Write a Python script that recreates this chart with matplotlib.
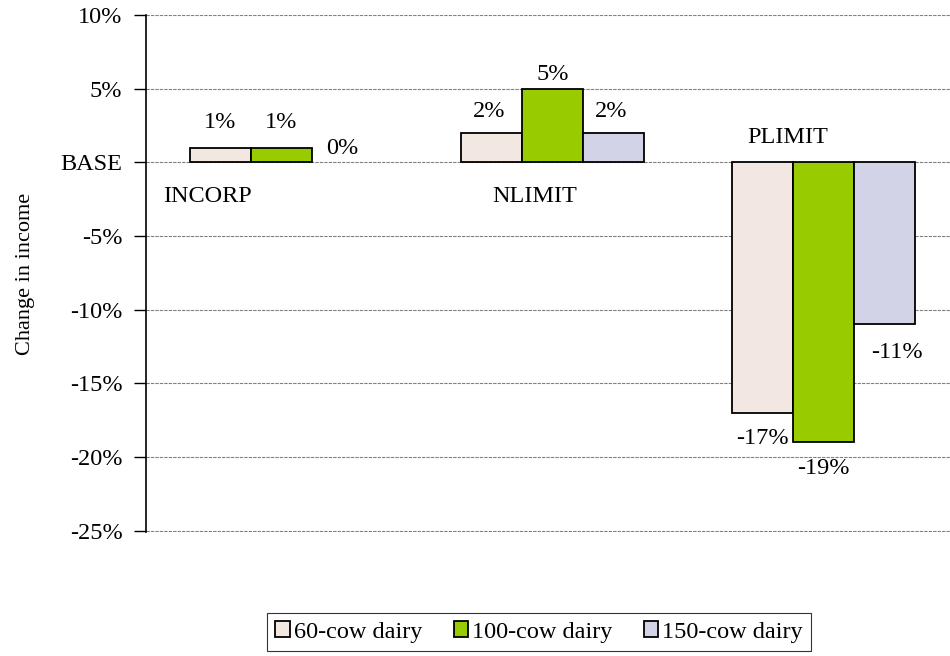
import numpy as np
import matplotlib
matplotlib.use('Agg')
import matplotlib.pyplot as plt

plt.rcParams['font.family'] = ['Liberation Serif', 'DejaVu Serif']

# data
scenarios = ['INCORP', 'NLIMIT', 'PLIMIT']
series = ['60-cow dairy', '100-cow dairy', '150-cow dairy']
dairy60 = [1, 2, -17]
dairy100 = [1, 5, -19]
dairy150 = [0, 2, -11]
yticks = [10, 5, 0, -5, -10, -15, -20, -25]
ytick_labels = ['10%', '5%', 'BASE', '-5%', '-10%', '-15%', '-20%', '-25%']

colors = ['#F3E7E2', '#99CC00', '#D3D3E8']
# label offsets in pixels (dx, dy) from the end of each bar
lab_off = [
    [(0, 25), (0, 25), (0, 14)],
    [(-2, 21), (0, 14), (-2, 21)],
    [(0, -26), (0, -26), (12, -28)],
]
cat_off = [(-74, -34), (-18, -34), (-36, 25)]
fs = 17.5

fig = plt.figure(figsize=(9.5, 6.56), dpi=100)
ax = fig.add_axes([146/950, 1-532/656, 813/950, 517/656])

x = np.arange(len(scenarios))
w = 0.225
vals = [dairy60, dairy100, dairy150]
for i, (v, c, name) in enumerate(zip(vals, colors, series)):
    xs = x + (i-1)*w
    lw = [1.3 if val != 0 else 0 for val in v]
    ax.bar(xs, v, w, color=c, edgecolor='black', linewidth=lw, label=name, zorder=3)
    for j in range(len(scenarios)):
        dx, dy = lab_off[j][i]
        ax.annotate(f'{v[j]:.0f}%', (xs[j], v[j]), xytext=(dx, dy),
                    textcoords='offset pixels', ha='center', va='center', fontsize=fs)

for j, s in enumerate(scenarios):
    dx, dy = cat_off[j]
    ax.annotate(s, (x[j], 0), xytext=(dx, dy), textcoords='offset pixels',
                ha='center', va='center', fontsize=fs)

ax.set_xlim(-0.5, 2.5)
ax.set_ylim(-25.08, 10)
ax.set_yticks(yticks)
ax.set_yticklabels(ytick_labels, fontsize=fs)
ax.set_xticks([])
ax.yaxis.grid(True, color='#808080', linestyle=(0, (3, 1)), linewidth=0.8, zorder=0)
ax.tick_params(axis='y', direction='out', length=9, width=1, pad=8)
for sp in ['top', 'right', 'bottom']:
    ax.spines[sp].set_visible(False)
ax.spines['left'].set_linewidth(1.2)
ax.set_ylabel('Change in income', fontsize=16, labelpad=18)

leg = fig.legend(loc='center', bbox_to_anchor=(539/950, 1-632/656), ncol=3, fontsize=fs,
                 frameon=True, fancybox=False, edgecolor='black', handlelength=0.6,
                 handleheight=0.6, handletextpad=0.15, columnspacing=1.3, borderpad=0.35)
leg.get_frame().set_linewidth(0.8)
for h in leg.legend_handles:
    h.set_linewidth(1.3)

fig.savefig('out.png', dpi=100)
